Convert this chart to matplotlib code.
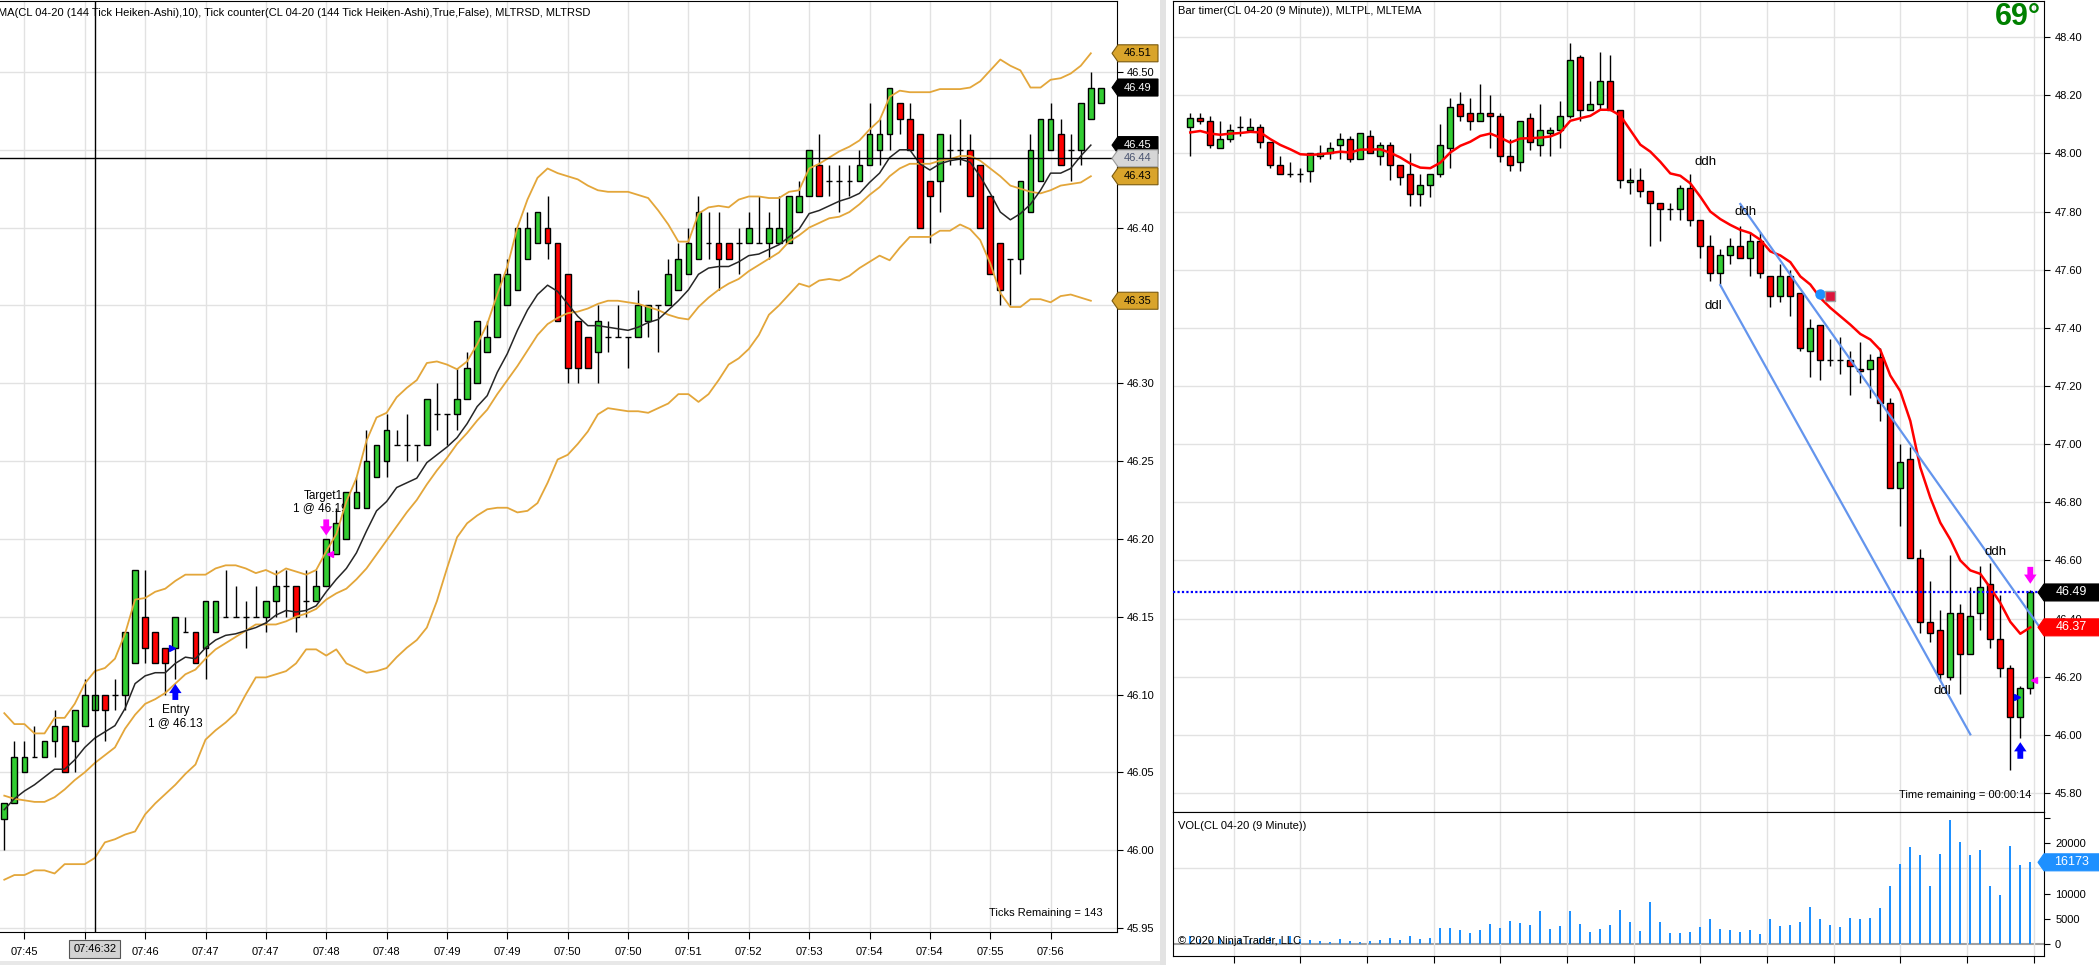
import numpy as np
import matplotlib
matplotlib.use("Agg")
import matplotlib.pyplot as plt
from matplotlib.patches import Polygon, Rectangle

plt.rcParams['font.family'] = ['Liberation Sans', 'DejaVu Sans']

# ---------------- LEFT: 144 tick Heiken-Ashi ----------------
left_open = [46.02,46.03,46.05,46.06,46.06,46.07,46.08,46.07,46.08,46.09,46.10,46.10,46.10,46.12,46.15,46.14,46.13,46.13,46.14,46.14,
             46.13,46.14,46.15,46.15,46.15,46.15,46.15,46.16,46.17,46.17,46.16,46.16,46.17,46.19,46.20,46.22,46.22,46.24,46.25,46.26,
             46.26,46.26,46.26,46.28,46.28,46.28,46.29,46.30,46.32,46.33,46.35,46.36,46.38,46.39,46.40,46.39,46.37,46.34,46.33,46.32,
             46.33,46.33,46.33,46.33,46.34,46.35,46.35,46.36,46.37,46.38,46.39,46.39,46.39,46.39,46.39,46.39,46.39,46.39,46.39,46.41,
             46.42,46.44,46.43,46.43,46.43,46.43,46.44,46.45,46.46,46.48,46.47,46.46,46.43,46.43,46.45,46.45,46.45,46.44,46.42,46.39,
             46.38,46.38,46.41,46.43,46.45,46.46,46.45,46.45,46.47,46.48]
left_high = [46.03,46.07,46.07,46.08,46.07,46.09,46.08,46.09,46.11,46.10,46.10,46.11,46.14,46.18,46.18,46.14,46.13,46.15,46.15,46.14,
             46.16,46.16,46.18,46.17,46.16,46.17,46.16,46.18,46.18,46.17,46.18,46.18,46.20,46.22,46.23,46.24,46.27,46.26,46.28,46.27,
             46.28,46.26,46.29,46.30,46.28,46.31,46.32,46.34,46.34,46.37,46.38,46.40,46.41,46.41,46.42,46.39,46.37,46.34,46.33,46.35,
             46.34,46.35,46.33,46.36,46.35,46.35,46.38,46.39,46.40,46.42,46.41,46.41,46.39,46.40,46.41,46.42,46.41,46.42,46.42,46.43,
             46.45,46.46,46.44,46.44,46.44,46.45,46.48,46.47,46.49,46.48,46.48,46.46,46.43,46.46,46.46,46.47,46.46,46.44,46.42,46.39,
             46.38,46.43,46.46,46.47,46.48,46.47,46.46,46.48,46.50,46.49]
left_low = [46.00,46.03,46.05,46.06,46.06,46.06,46.05,46.05,46.08,46.09,46.07,46.09,46.09,46.12,46.12,46.12,46.10,46.11,46.14,46.12,
            46.11,46.14,46.15,46.15,46.13,46.15,46.14,46.15,46.15,46.14,46.15,46.16,46.17,46.19,46.20,46.22,46.22,46.24,46.24,46.26,
            46.25,46.25,46.26,46.27,46.26,46.27,46.29,46.30,46.32,46.33,46.35,46.36,46.38,46.39,46.38,46.34,46.30,46.30,46.31,46.30,
            46.32,46.33,46.31,46.33,46.33,46.32,46.35,46.36,46.37,46.38,46.38,46.36,46.38,46.37,46.39,46.39,46.38,46.39,46.39,46.41,
            46.42,46.42,46.42,46.41,46.42,46.43,46.44,46.44,46.45,46.46,46.45,46.40,46.39,46.41,46.44,46.44,46.42,46.40,46.37,46.35,
            46.35,46.37,46.41,46.43,46.45,46.44,46.43,46.44,46.47,46.48]
left_close = [46.03,46.06,46.06,46.06,46.07,46.08,46.05,46.09,46.10,46.10,46.09,46.10,46.14,46.18,46.13,46.12,46.12,46.15,46.14,46.12,
              46.16,46.16,46.15,46.15,46.15,46.15,46.16,46.17,46.17,46.15,46.16,46.17,46.20,46.21,46.23,46.23,46.25,46.26,46.27,46.26,
              46.26,46.26,46.29,46.28,46.28,46.29,46.31,46.34,46.33,46.37,46.37,46.40,46.40,46.41,46.39,46.34,46.31,46.31,46.31,46.34,
              46.33,46.33,46.33,46.35,46.35,46.35,46.37,46.38,46.39,46.41,46.39,46.38,46.38,46.39,46.40,46.39,46.40,46.40,46.42,46.42,
              46.45,46.42,46.43,46.43,46.43,46.44,46.46,46.46,46.49,46.47,46.45,46.40,46.42,46.46,46.45,46.45,46.42,46.40,46.37,46.36,
              46.38,46.43,46.45,46.47,46.47,46.44,46.45,46.48,46.49,46.49]

left_ma = [46.026,46.033,46.038,46.042,46.047,46.052,46.052,46.058,46.066,46.072,46.076,46.080,46.091,46.107,46.112,46.114,46.114,46.120,46.124,46.123,
           46.130,46.135,46.138,46.139,46.141,46.143,46.146,46.151,46.154,46.153,46.154,46.157,46.166,46.174,46.181,46.191,46.205,46.218,46.224,46.233,
           46.236,46.239,46.249,46.254,46.259,46.265,46.274,46.285,46.292,46.307,46.319,46.334,46.347,46.357,46.363,46.359,46.351,46.343,46.337,46.337,
           46.336,46.335,46.334,46.336,46.339,46.341,46.347,46.353,46.360,46.370,46.374,46.375,46.375,46.378,46.382,46.383,46.386,46.389,46.394,46.399,
           46.409,46.411,46.414,46.417,46.419,46.422,46.429,46.435,46.445,46.450,46.450,46.441,46.437,46.441,46.443,46.444,46.442,46.433,46.422,46.410,
           46.405,46.409,46.415,46.424,46.435,46.435,46.438,46.446,46.453]
band_upper = [46.088,46.081,46.081,46.075,46.075,46.085,46.085,46.094,46.107,46.115,46.117,46.123,46.139,46.161,46.162,46.166,46.168,46.173,46.177,46.177,
              46.177,46.181,46.183,46.183,46.181,46.178,46.180,46.177,46.181,46.179,46.177,46.180,46.192,46.203,46.224,46.239,46.263,46.278,46.281,46.291,
              46.297,46.302,46.313,46.314,46.312,46.309,46.314,46.325,46.338,46.357,46.375,46.400,46.418,46.432,46.438,46.435,46.433,46.431,46.427,46.424,
              46.423,46.423,46.423,46.421,46.419,46.411,46.402,46.391,46.391,46.409,46.413,46.414,46.413,46.418,46.420,46.420,46.419,46.419,46.423,46.424,
              46.438,46.441,46.445,46.449,46.452,46.456,46.463,46.469,46.484,46.488,46.487,46.487,46.487,46.489,46.489,46.489,46.490,46.494,46.501,46.508,
              46.504,46.501,46.490,46.490,46.495,46.496,46.499,46.504,46.512]
band_mid = [46.035,46.033,46.032,46.031,46.031,46.034,46.039,46.045,46.050,46.056,46.061,46.066,46.078,46.087,46.094,46.097,46.101,46.107,46.113,46.116,
            46.123,46.129,46.133,46.137,46.141,46.145,46.145,46.145,46.147,46.150,46.152,46.155,46.161,46.165,46.168,46.174,46.181,46.190,46.199,46.208,
            46.217,46.225,46.235,46.244,46.252,46.261,46.268,46.276,46.283,46.293,46.302,46.311,46.321,46.331,46.338,46.342,46.345,46.346,46.348,46.351,
            46.353,46.353,46.352,46.351,46.349,46.347,46.344,46.342,46.341,46.349,46.355,46.360,46.364,46.367,46.372,46.376,46.380,46.384,46.391,46.395,
            46.400,46.403,46.406,46.407,46.410,46.415,46.421,46.426,46.433,46.438,46.441,46.441,46.441,46.443,46.444,46.446,46.446,46.443,46.438,46.433,
            46.427,46.425,46.423,46.422,46.424,46.427,46.428,46.429,46.433]
band_lower = [45.981,45.984,45.984,45.987,45.987,45.985,45.991,45.991,45.991,45.995,46.005,46.007,46.010,46.012,46.023,46.030,46.036,46.042,46.049,46.055,
              46.071,46.077,46.082,46.088,46.100,46.111,46.111,46.113,46.115,46.120,46.129,46.129,46.125,46.129,46.120,46.117,46.114,46.115,46.117,46.124,
              46.130,46.135,46.143,46.160,46.181,46.201,46.210,46.215,46.219,46.220,46.220,46.217,46.218,46.223,46.236,46.251,46.254,46.261,46.269,46.280,
              46.284,46.283,46.282,46.282,46.281,46.284,46.287,46.293,46.293,46.288,46.293,46.302,46.312,46.316,46.322,46.331,46.344,46.350,46.357,46.364,
              46.362,46.366,46.367,46.366,46.369,46.374,46.378,46.382,46.379,46.387,46.394,46.394,46.394,46.398,46.398,46.402,46.399,46.392,46.377,46.358,
              46.349,46.349,46.354,46.354,46.352,46.356,46.357,46.355,46.353]

left_tick_bars = [2, 8, 14, 20, 26, 32, 38, 44, 50, 56, 62, 68, 74, 80, 86, 92, 98, 104]
left_tick_labels = ["07:45", "", "07:46", "07:47", "07:47", "07:48", "07:48", "07:49", "07:49", "07:50",
                    "07:50", "07:51", "07:52", "07:53", "07:54", "07:54", "07:55", "07:56"]
crosshair_bar = 9
crosshair_price = 46.4445
crosshair_time = "07:46:32"
entry_bar, entry_price = 17, 46.13
target_bar, target_price = 32, 46.19

# ---------------- RIGHT: 9 minute ----------------
r_open = [48.09,48.12,48.11,48.02,48.05,48.09,48.08,48.09,48.04,47.96,47.93,47.93,47.94,47.99,48.00,48.03,48.05,47.98,48.06,47.99,
          48.03,47.96,47.93,47.86,47.89,47.93,48.02,48.17,48.14,48.11,48.14,48.13,47.99,47.97,48.12,48.03,48.07,48.08,48.13,48.33,
          48.15,48.17,48.25,48.15,47.90,47.91,47.87,47.83,47.81,47.81,47.88,47.77,47.68,47.59,47.65,47.68,47.64,47.70,47.58,47.51,
          47.58,47.52,47.32,47.41,47.29,47.29,47.29,47.26,47.26,47.30,47.14,46.85,46.95,46.61,46.39,46.36,46.20,46.42,46.28,46.42,
          46.52,46.33,46.23,46.06,46.16]
r_high = [48.14,48.14,48.13,48.11,48.10,48.13,48.12,48.10,48.04,47.99,47.97,47.95,48.00,48.03,48.04,48.07,48.06,48.07,48.08,48.04,
          48.04,47.96,48.00,47.93,47.93,48.10,48.19,48.21,48.19,48.24,48.20,48.14,48.05,48.11,48.14,48.17,48.09,48.18,48.38,48.34,
          48.25,48.35,48.34,48.15,47.95,47.95,47.87,47.83,47.83,47.89,47.93,47.77,47.72,47.67,47.71,47.75,47.73,47.73,47.58,47.62,
          47.60,47.52,47.43,47.41,47.36,47.37,47.32,47.35,47.31,47.33,47.16,47.00,46.99,46.64,46.53,46.43,46.62,46.45,46.51,46.58,
          46.59,46.48,46.24,46.17,46.50]
r_low = [47.99,48.10,48.02,48.02,48.04,48.06,48.08,48.02,47.95,47.93,47.92,47.90,47.90,47.98,47.98,47.98,47.97,47.98,48.00,47.96,
         47.91,47.89,47.82,47.82,47.85,47.92,47.95,48.11,48.08,48.11,48.02,47.97,47.94,47.94,48.01,47.99,47.99,48.02,48.12,48.11,
         48.15,48.15,48.15,47.88,47.86,47.85,47.68,47.70,47.77,47.77,47.75,47.64,47.56,47.55,47.62,47.64,47.58,47.57,47.47,47.49,
         47.44,47.32,47.23,47.22,47.27,47.24,47.17,47.21,47.16,47.08,46.85,46.72,46.61,46.35,46.32,46.19,46.19,46.14,46.28,46.36,
         46.30,46.20,45.88,45.99,46.14]
r_close = [48.12,48.11,48.03,48.05,48.08,48.09,48.09,48.04,47.96,47.93,47.93,47.93,48.00,48.00,48.02,48.05,47.98,48.07,48.00,48.03,
           47.96,47.92,47.86,47.89,47.93,48.03,48.16,48.13,48.11,48.14,48.13,47.99,47.96,48.11,48.04,48.08,48.08,48.13,48.32,48.15,
           48.17,48.25,48.15,47.91,47.91,47.87,47.83,47.81,47.81,47.88,47.77,47.68,47.59,47.65,47.68,47.64,47.70,47.59,47.51,47.58,
           47.51,47.33,47.40,47.29,47.29,47.29,47.27,47.25,47.29,47.14,46.85,46.94,46.61,46.39,46.35,46.21,46.42,46.28,46.41,46.51,
           46.33,46.23,46.06,46.16,46.49]
r_ema = [48.072,48.077,48.068,48.064,48.068,48.070,48.074,48.072,48.049,48.029,48.014,47.997,47.995,47.997,48.001,48.006,48.003,48.013,48.013,48.014,
         48.002,47.986,47.965,47.951,47.949,47.968,48.003,48.026,48.040,48.060,48.068,48.054,48.037,48.051,48.052,48.054,48.058,48.072,48.112,48.121,
         48.129,48.150,48.150,48.130,48.080,48.030,48.006,47.971,47.931,47.923,47.897,47.851,47.800,47.774,47.754,47.737,47.726,47.703,47.663,47.649,
         47.626,47.577,47.549,47.503,47.469,47.440,47.411,47.379,47.360,47.324,47.236,47.182,47.080,46.920,46.816,46.730,46.672,46.600,46.566,46.554,
         46.506,46.454,46.389,46.348,46.370]
r_volume = [1650,1000,800,1200,600,900,700,1100,1300,900,1500,1000,860,660,330,1060,660,460,660,860,
            1250,860,1650,1060,1250,3230,3230,2840,2240,2840,4030,3230,4620,4220,3830,6600,3040,3630,6600,4030,
            2440,3040,3830,6800,4420,2640,8380,4420,2240,2240,2450,3440,5030,3050,2850,2450,2850,2050,5030,3640,
            3840,4440,7420,5030,3840,3440,5230,5030,5230,7220,11390,15760,19130,17540,11390,17740,24500,20130,17540,18540,
            11390,9800,19330,15560,16173]
last_price = 46.49
trend_upper_x, trend_upper_y = [55.0, 85.4], [47.826, 46.348]
trend_lower_x, trend_lower_y = [53.0, 78.0], [47.547, 46.002]
swing_labels = [("ddh", 51.5, 47.97), ("ddh", 55.5, 47.80), ("ddl", 52.3, 47.476),
                ("ddh", 80.5, 46.63), ("ddl", 75.2, 46.15)]

# ---------------- figure ----------------
W, H = 2099, 965
fig = plt.figure(figsize=(W / 100, H / 100), dpi=100)
fig.patch.set_facecolor('white')


def ax_px(x0, y0, x1, y1):
    return fig.add_axes([x0 / W, 1 - y1 / H, (x1 - x0) / W, (y1 - y0) / H])


GRID = '#E2E2E2'
UP, DN = '#32CD32', '#FF0000'
BAND = '#E3A63A'
FS = 8


def candles(ax, o, h, l, c, width):
    x = np.arange(len(o))
    o, h, l, c = map(np.asarray, (o, h, l, c))
    ax.vlines(x, l, h, color='black', lw=1, zorder=3)
    colors = np.where(c >= o, UP, DN)
    ax.bar(x, np.abs(c - o), width, bottom=np.minimum(o, c), color=colors,
           edgecolor='black', linewidth=1, zorder=4)


def trade_arrow(ax, x, tail, tip, color):
    ax.annotate('', xy=(x, tip), xytext=(x, tail),
                arrowprops=dict(arrowstyle='simple,head_length=0.55,head_width=0.75,tail_width=0.35',
                                color=color, mutation_scale=12, shrinkA=0, shrinkB=0, lw=0),
                zorder=7)


# LEFT axes
axL = ax_px(0, 1, 1117, 932)
axL.set_xlim(-0.427, 110.6)
axL.set_ylim(45.9474, 46.5456)
axL.spines['left'].set_visible(False)
for s in ['top', 'right', 'bottom']:
    axL.spines[s].set_color('black')
axL.yaxis.tick_right()
yt = np.round(np.arange(45.95, 46.501, 0.05), 2)
axL.set_yticks(yt)
axL.set_yticklabels([f"{v:.2f}" if abs(v - 46.35) > 1e-6 else "" for v in yt], fontsize=FS)
axL.set_xticks(left_tick_bars)
axL.set_xticklabels(left_tick_labels, fontsize=FS)
axL.tick_params(axis='y', length=4, pad=3, direction='out')
axL.tick_params(axis='x', length=5, pad=6, direction='out')
axL.grid(True, color=GRID, lw=1, zorder=0)
axL.set_axisbelow(True)

candles(axL, left_open, left_high, left_low, left_close, 0.57)
xi = np.arange(len(left_ma))
axL.plot(xi, band_upper, color=BAND, lw=1.3, zorder=5)
axL.plot(xi, band_mid, color=BAND, lw=1.3, zorder=5)
axL.plot(xi, band_lower, color=BAND, lw=1.3, zorder=5)
axL.plot(xi, left_ma, color='#262626', lw=1.1, zorder=5)

# crosshair
axL.axvline(crosshair_bar, color='black', lw=1, zorder=6)
axL.axhline(crosshair_price, color='black', lw=1, zorder=6)

# entry / target markers
trade_arrow(axL, entry_bar, 46.0965, 46.1068, '#0000FF')
axL.plot([entry_bar - 0.3], [entry_price], marker='>', color='#0000FF', ms=5, zorder=7)
axL.text(entry_bar, 46.090, "Entry", ha='center', va='center', fontsize=FS + 0.5, zorder=7)
axL.text(entry_bar, 46.0815, "1 @ 46.13", ha='center', va='center', fontsize=FS + 0.5, zorder=7)
trade_arrow(axL, target_bar, 46.2125, 46.2022, '#FF00FF')
axL.plot([target_bar + 0.35], [target_price], marker='<', color='#FF00FF', ms=5, zorder=7)
axL.text(target_bar - 0.3, 46.2275, "Target1", ha='center', va='center', fontsize=FS + 0.5, zorder=2)
axL.text(target_bar - 0.6, 46.2200, "1 @ 46.19", ha='center', va='center', fontsize=FS + 0.5, zorder=2)
fig.text(1103 / W, 1 - 913 / H, "Ticks Remaining = 143", ha='right', va='center', fontsize=FS)

# RIGHT price axes
axR = ax_px(1173, 1, 2044, 812)
axR.set_xlim(-1.73, 85.37)
axR.set_ylim(45.735, 48.524)
for s in axR.spines.values():
    s.set_color('black')
axR.yaxis.tick_right()
yr = np.round(np.arange(45.8, 48.41, 0.2), 2)
axR.set_yticks(yr)
axR.set_yticklabels([f"{v:.2f}" for v in yr], fontsize=FS)
vg = np.arange(13 / 3, 85, 20 / 3)
axR.set_xticks(vg)
axR.set_xticklabels([])
axR.tick_params(axis='x', length=0)
axR.tick_params(axis='y', length=4, pad=4)
axR.grid(True, color=GRID, lw=1, zorder=0)
axR.set_axisbelow(True)

candles(axR, r_open, r_high, r_low, r_close, 0.6)
axR.plot(np.arange(len(r_ema)), r_ema, color='#FF0000', lw=1.8, zorder=5)
axR.axhline(last_price, color='#0000FF', lw=1.6, ls=(0, (1, 1)), zorder=5)
axR.plot(trend_upper_x, trend_upper_y, color='#6495ED', lw=1.6, zorder=5)
axR.plot(trend_lower_x, trend_lower_y, color='#6495ED', lw=1.6, zorder=5)
axR.plot([63], [47.516], marker='o', color='#1E90FF', ms=6.5, zorder=6)
axR.plot([64], [47.51], marker='s', color='#DC143C', mec='#A0A0A0', ms=6.5, zorder=6)
for t, xx, yy in swing_labels:
    axR.text(xx, yy, t, ha='center', va='center', fontsize=9.5, zorder=6)
trade_arrow(axR, 84, 46.578, 46.52, '#FF00FF')
axR.plot([84.35], [46.19], marker='<', color='#FF00FF', ms=5, zorder=7)
trade_arrow(axR, 83, 45.918, 45.975, '#0000FF')
axR.plot([82.65], [46.13], marker='>', color='#0000FF', ms=5, zorder=7)

# VOLUME axes
axV = ax_px(1173, 812, 2044, 956)
axV.set_xlim(-1.73, 85.37)
axV.set_ylim(-2376, 26139)
for s in axV.spines.values():
    s.set_color('black')
axV.yaxis.tick_right()
axV.set_yticks([0, 5000, 10000, 20000, 25000])
axV.set_yticklabels(["0", "5000", "10000", "20000", ""], fontsize=FS)
axV.set_xticks(vg)
axV.set_xticklabels([])
axV.tick_params(axis='x', length=5, direction='out')
axV.tick_params(axis='y', length=4, pad=4)
axV.grid(True, axis='x', color=GRID, lw=1, zorder=0)
axV.axhline(15000, color=GRID, lw=1, zorder=0)
axV.axhline(0, color='#A0A0A0', lw=1.5, zorder=1)
axV.bar(np.arange(len(r_volume)), r_volume, width=0.22, color='#1E90FF', zorder=3)

# ---------------- decorations ----------------
fig.patches.append(Rectangle((1160 / W, 0), 6 / W, 1, transform=fig.transFigure,
                             fc='#E3E3E3', ec='none', zorder=0))
fig.patches.append(Rectangle((0, 0), 1160 / W, 4 / H, transform=fig.transFigure,
                             fc='#E8E8E8', ec='none', zorder=0))


def price_box(ax, price, text, fc, tc, xl, xr, ec=None, h=17, pt=6, fs=FS):
    yc = ax.transData.transform((0, price))[1]
    verts = [(xl, yc), (xl + pt, yc + h / 2), (xr, yc + h / 2), (xr, yc - h / 2), (xl + pt, yc - h / 2)]
    verts = [(vx / W, vy / H) for vx, vy in verts]
    fig.patches.append(Polygon(verts, closed=True, transform=fig.transFigure, fc=fc,
                               ec=ec if ec else fc, lw=0.8, zorder=10))
    fig.text((xl + pt + xr) / 2 / W, yc / H, text, ha='center', va='center', color=tc,
             fontsize=fs, zorder=11)


GOLD = '#D9A42B'
price_box(axL, band_upper[-1], f"{band_upper[-1]:.2f}", GOLD, 'black', 1112, 1158, ec='#7a5a10')
price_box(axL, left_close[-1], f"{left_close[-1]:.2f}", 'black', 'white', 1112, 1158)
price_box(axL, left_ma[-1], f"{left_ma[-1]:.2f}", 'black', 'white', 1112, 1158)
price_box(axL, crosshair_price, f"{crosshair_price:.2f}", '#D6D6D6', '#4A5470', 1112, 1158, ec='#9a9a9a')
price_box(axL, band_mid[-1], f"{band_mid[-1]:.2f}", GOLD, 'black', 1112, 1158, ec='#7a5a10')
price_box(axL, band_lower[-1], f"{band_lower[-1]:.2f}", GOLD, 'black', 1112, 1158, ec='#7a5a10')
price_box(axR, last_price, f"{last_price:.2f}", 'black', 'white', 2038, 2099, fs=FS + 1)
price_box(axR, r_ema[-1], f"{r_ema[-1]:.2f}", '#FF0000', 'white', 2038, 2099, fs=FS + 1)
price_box(axV, r_volume[-1], f"{r_volume[-1]}", '#1E90FF', 'white', 2038, 2099, fs=FS + 1)

# crosshair time label
fig.text((crosshair_bar * 10.06 + 4.3) / W, 1 - 949 / H, crosshair_time, ha='center', va='center',
         fontsize=FS, zorder=11,
         bbox=dict(boxstyle='square,pad=0.35', fc='#D3D3D3', ec='#555555', lw=0.8))

fig.text(-2 / W, 1 - 13 / H,
         "MA(CL 04-20 (144 Tick Heiken-Ashi),10), Tick counter(CL 04-20 (144 Tick Heiken-Ashi),True,False), MLTRSD, MLTRSD",
         ha='left', va='center', fontsize=FS)
fig.text(1178 / W, 1 - 11 / H, "Bar timer(CL 04-20 (9 Minute)), MLTPL, MLTEMA",
         ha='left', va='center', fontsize=FS)
fig.text(2018 / W, 1 - 17 / H, "69°", ha='center', va='center', fontsize=22,
         fontweight='bold', color='#008000')
fig.text(2031 / W, 1 - 795 / H, "Time remaining = 00:00:14", ha='right', va='center', fontsize=FS)
fig.text(1178 / W, 1 - 826 / H, "VOL(CL 04-20 (9 Minute))", ha='left', va='center', fontsize=FS)
fig.text(1178 / W, 1 - 941 / H, "© 2020 NinjaTrader, LLC", ha='left', va='center', fontsize=FS, zorder=12)

fig.savefig("out.png", dpi=100)
